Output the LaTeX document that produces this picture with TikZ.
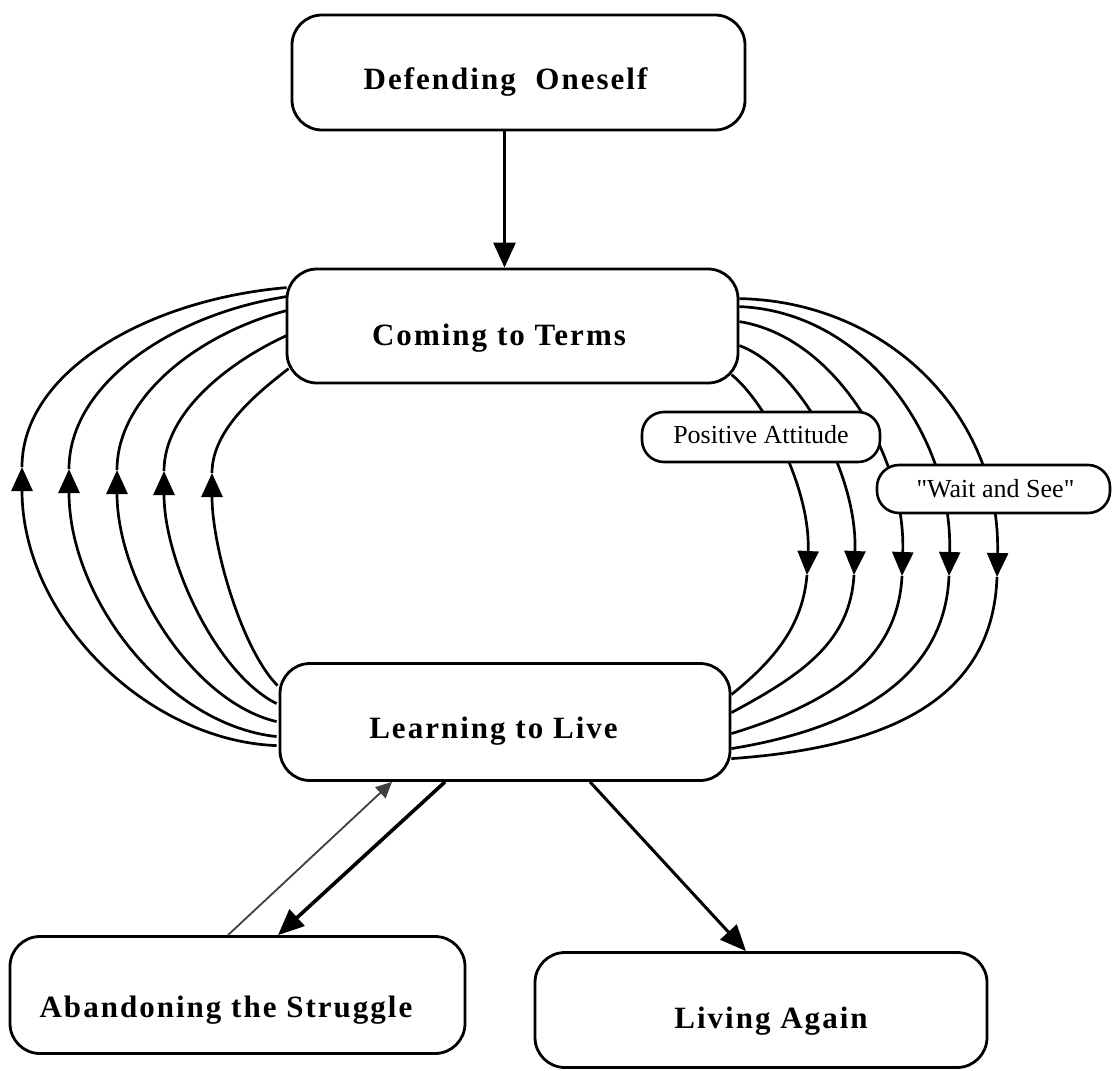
\documentclass[tikz,border=0pt]{standalone}
\usepackage{fontspec}
\setmainfont{Liberation Serif}
\newfontfamily\boxfont{Liberation Serif}[LetterSpace=6.5]
\newfontfamily\tagfont{Liberation Serif}[Ligatures=TeXOff]
\usetikzlibrary{arrows.meta,calc,backgrounds}

\begin{document}
\begin{tikzpicture}[x=1pt,y=-1pt,
  stagebox/.style={draw, line width=2.8pt, rounded corners=30pt, fill=white,
    inner sep=0pt, text depth=0pt,
    font=\boxfont\bfseries\fontsize{31}{36}\selectfont},
  tagbox/.style={draw, line width=2.6pt, rounded corners=22pt, fill=white,
    inner sep=0pt, text depth=0pt, font=\tagfont\fontsize{26}{30}\selectfont},
  loopline/.style={line width=2.7pt},
  looptip/.style={-{Triangle[width=21pt,length=24pt]}},
  mainarrow/.style={line width=2.8pt, -{Triangle[width=22pt,length=25pt]}},
  heavyarrow/.style={line width=3.6pt, -{Triangle[width=22pt,length=26pt]}},
  lightarrow/.style={line width=1.8pt, draw=black!75, -{Triangle[width=15pt,length=16pt]}}
]
\useasboundingbox (0,0) rectangle (1112,1071);

% stages
\node[stagebox, minimum width=453pt, minimum height=115pt, text height=33pt]
  (def) at (518.5,72.5) {Defending\ \ Oneself\kern26pt};
\node[stagebox, minimum width=451pt, minimum height=114pt, text height=38pt]
  (ctt) at (512.5,326) {Coming to Terms\kern27pt};
\node[stagebox, minimum width=450pt, minimum height=117pt, text height=32pt]
  (ltl) at (505,722) {Learning to Live\kern23pt};
\node[stagebox, minimum width=455pt, minimum height=117pt, text height=44pt]
  (ab) at (237.5,995) {Abandoning the Struggle\kern23pt};
\node[stagebox, minimum width=452pt, minimum height=115pt, text height=36pt]
  (la) at (761,1010) {\kern20pt Living Again};

% side labels on the right-hand loops
\node[tagbox, minimum width=238pt, minimum height=50pt, text height=12pt]
  (pa) at (761,437) {Positive Attitude};
\node[tagbox, minimum width=233pt, minimum height=48pt, text height=16pt]
  (ws) at (993.5,489) {\kern4pt"Wait and See"};

% loops between the two middle stages, behind the boxes
\begin{pgfonlayer}{background}
  \fill[white] (0,0) rectangle (1112,1071);
  % left side: from Learning to Live back up to Coming to Terms
  \foreach \ex/\ey/\ecx/\ecy/\ax/\ay/\lo/\hi/\sx/\sy/\scx/\scy in {
      -2/83.5/-130/-5/22/467/150/95/1/20/-140/12,
      -2/74.5/-110/-12/69/469/130/85/1/29/-115/18,
      -2/59.5/-85/-20/117/470/110/75/1/43/-85/22,
      -2/41.5/-60/-30/164/471/90/60/1/68/-55/25,
      -1/23.5/-35/-35/212/473/75/45/3/101/-28/22} {
    \draw[loopline, looptip] ($(ltl.north west)+(\ex,\ey)$)
      .. controls +(\ecx,\ecy) and +(0,\lo) .. (\ax,\ay);
    \draw[loopline] (\ax,\ay)
      .. controls +(0,-\hi) and +(\scx,\scy) .. ($(ctt.north west)+(\sx,\sy)$);
  }
  % right side: from Coming to Terms down to Learning to Live
  \foreach \sx/\sy/\scx/\scy/\ax/\ay/\hi/\lo/\ex/\ey/\ecx/\ecy in {
      0/31/150/3/997/577/160/115/0/96.5/170/-12,
      0/39/125/5/949/576/140/95/0/86.5/135/-22,
      0/54/95/15/902/576/120/80/0/71.5/105/-32,
      0/78/60/22/854/575/100/65/0/50.5/75/-40,
      -8/107/35/28/807/575/85/45/0/32.5/50/-40} {
    \draw[loopline, looptip] ($(ctt.north east)+(\sx,\sy)$)
      .. controls +(\scx,\scy) and +(4,-\hi) .. (\ax,\ay);
    \draw[loopline] (\ax,\ay)
      .. controls +(-4,\lo) and +(\ecx,\ecy) .. ($(ltl.north east)+(\ex,\ey)$);
  }
\end{pgfonlayer}

% transitions
\draw[mainarrow] ([xshift=-14pt]def.south) -- ([xshift=-14pt]def.south |- ctt.north);
\draw[heavyarrow] ($(ltl.south)+(-60,0)$) -- ($(ab.north)+(40.5,0)$);
\draw[lightarrow] ($(ab.north)+(-9.5,0)$) -- ($(ltl.south)+(-113,0)$);
\draw[heavyarrow, line width=3pt] ($(ltl.south)+(85,0)$) -- ($(la.north)+(-15,0)$);
\end{tikzpicture}
\end{document}
